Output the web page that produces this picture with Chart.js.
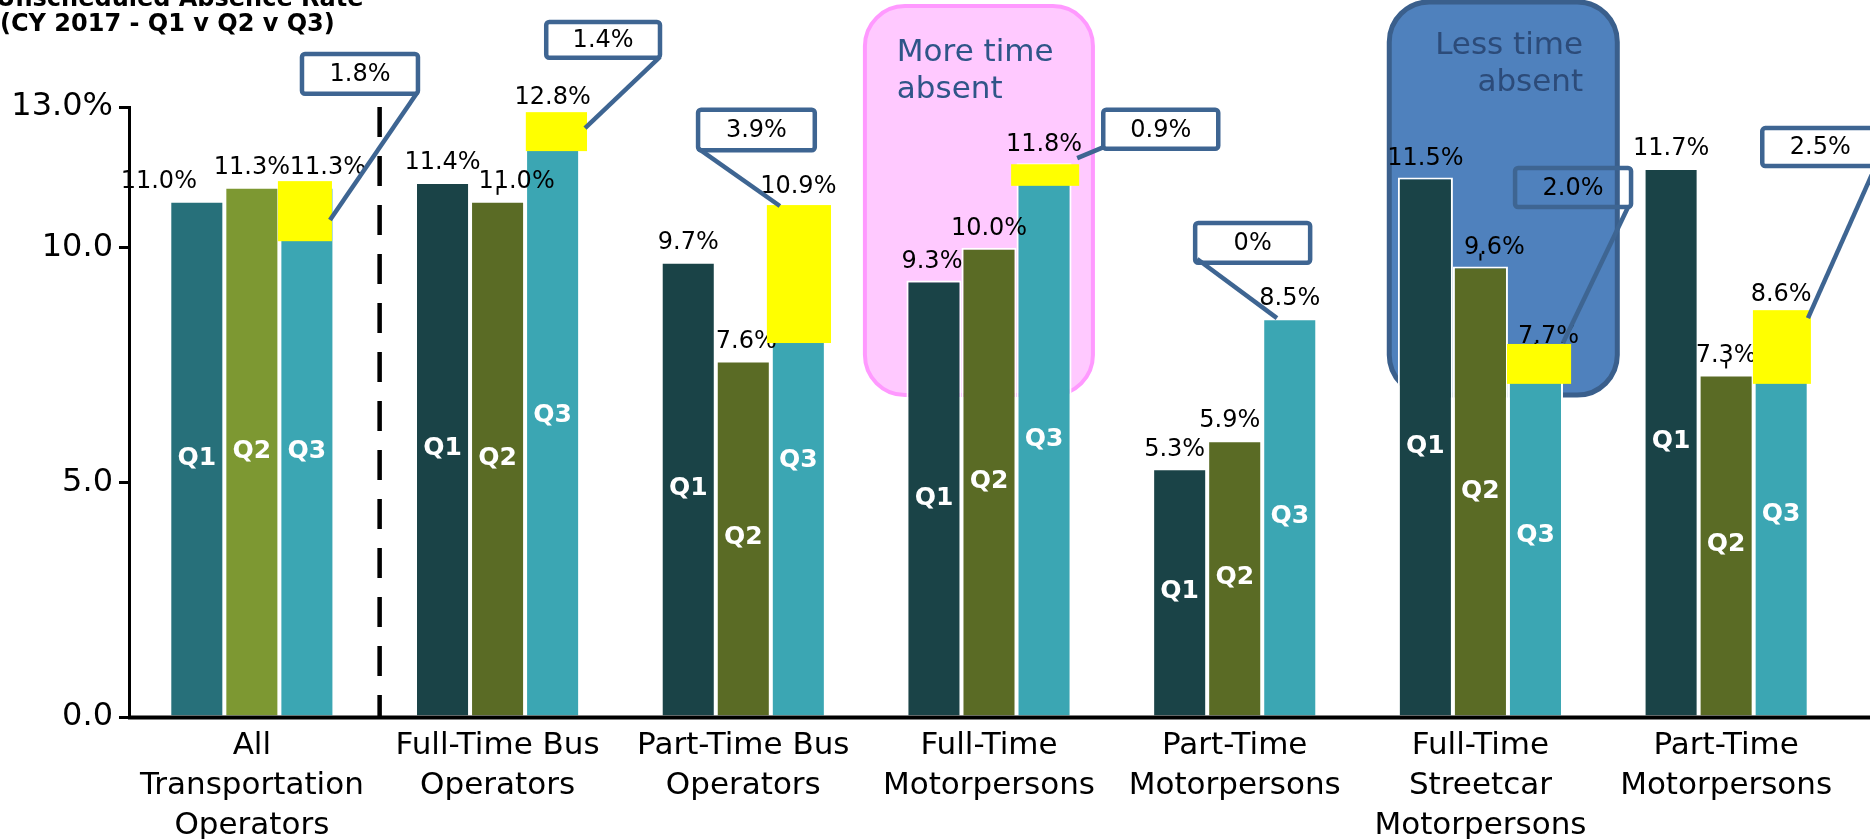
<!DOCTYPE html>
<html>
<head>
<meta charset="utf-8">
<title>Unscheduled Absence Rate</title>
<script src="https://cdn.jsdelivr.net/npm/chart.js@4.4.1/dist/chart.umd.min.js"></script>
<style>
  html, body { margin: 0; padding: 0; background: #fff; }
  #wrap { width: 1870px; height: 839px; }
</style>
</head>
<body>
<div id="wrap"><canvas id="absenceChart" width="1870" height="839"></canvas></div>
<script>
const categories = [
  ["All", "Transportation", "Operators"],
  ["Full-Time Bus", "Operators"],
  ["Part-Time Bus", "Operators"],
  ["Full-Time", "Motorpersons"],
  ["Part-Time", "Motorpersons"],
  ["Full-Time", "Streetcar", "Motorpersons"],
  ["Part-Time", "Motorpersons"]
];
const quarters = ["Q1", "Q2", "Q3"];
const q1Rates = [11.0, 11.4, 9.7, 9.3, 5.3, 11.5, 11.7];
const q2Rates = [11.3, 11.0, 7.6, 10.0, 5.9, 9.6, 7.3];
const q3Rates = [11.3, 12.8, 10.9, 11.8, 8.5, 7.7, 8.6];
const yTickValues = [0, 5, 10, 13];
const yTickLabels = ["0.0", "5.0", "10.0", "13.0%"];
const changeLabels = ["1.8%", "1.4%", "3.9%", "0.9%", "0%", "2.0%", "2.5%"];

const FONT = "'DejaVu Sans', Verdana, sans-serif";

// first group (all operators) uses lighter shades
const q1Colors = categories.map((c, i) => i === 0 ? "#27707A" : "#1A4347");
const q2Colors = categories.map((c, i) => i === 0 ? "#7D9832" : "#5A6B25");
const q3Colors = categories.map(() => "#3BA6B3");

// small sideways shifts of the value labels, and which ones get a tiny leader
const labelShift = [
  [-38, 0, 0, -2, -5, 0, 0],
  [0, 19, 3, 0, -5, 14, 0],
  [21, 0, 0, 0, 0, 13, 0]
];
const labelTicks = [
  [0, 0, 0, 0, 0, 0, 0],
  [0, 1, 0, 0, 0, 1, 1],
  [0, 0, 0, 0, 0, 1, 0]
];

// annotation shapes, in category units (u) and rate units (v)
const panels = [
  { lines: ["More time", "absent"], u: [2.495, 3.423], v: [15.15, 6.86],
    fill: "#FFC9FF", stroke: "#FF99FF", lw: 4, textColor: "#2F5588",
    align: "left", textU: 2.625, textV: [14.16, 13.37] },
  { lines: ["Less time", "absent"], u: [4.629, 5.557], v: [15.24, 6.86],
    fill: "#4F81BD", stroke: "#3A5F8C", lw: 5, textColor: "#2C4B79",
    align: "right", textU: 5.418, textV: [14.30, 13.52] }
];
const highlights = [
  { u: [0.106, 0.326], v: [10.14, 11.42] },
  { u: [1.115, 1.364], v: [12.06, 12.89] },
  { u: [2.096, 2.357], v: [7.97, 10.91] },
  { u: [3.090, 3.367], v: [11.32, 11.78] },
  { u: [5.108, 5.369], v: [7.10, 7.95] },
  { u: [6.109, 6.345], v: [7.10, 8.67] }
];
const callouts = [
  { u: [0.204, 0.676], v: [14.13, 13.28], from: [0.672, 13.30], to: [0.318, 10.59] },
  { u: [1.198, 1.661], v: [14.81, 14.05], from: [1.661, 14.07], to: [1.356, 12.55] },
  { u: [1.816, 2.291], v: [12.94, 12.08], from: [1.816, 12.12], to: [2.149, 10.89] },
  { u: [3.465, 3.933], v: [12.94, 12.11], from: [3.469, 12.15], to: [3.359, 11.91] },
  { u: [3.839, 4.307], v: [10.53, 9.68], from: [3.847, 9.76], to: [4.172, 8.50] },
  { u: [5.141, 5.613], v: [11.70, 10.87], from: [5.601, 10.87], to: [5.336, 7.97] },
  { u: [6.147, 6.619], v: [12.55, 11.74], from: [6.610, 11.76], to: [6.333, 8.50] }
];

function px(chart, u) {
  const xs = chart.scales.x;
  const x0 = xs.getPixelForValue(0);
  return x0 + u * (xs.getPixelForValue(1) - x0);
}
function py(chart, v) {
  return chart.scales.y.getPixelForValue(v);
}
function roundRect(ctx, x, y, w, h, r) {
  ctx.beginPath();
  ctx.moveTo(x + r, y);
  ctx.lineTo(x + w - r, y);
  ctx.arcTo(x + w, y, x + w, y + r, r);
  ctx.lineTo(x + w, y + h - r);
  ctx.arcTo(x + w, y + h, x + w - r, y + h, r);
  ctx.lineTo(x + r, y + h);
  ctx.arcTo(x, y + h, x, y + h - r, r);
  ctx.lineTo(x, y + r);
  ctx.arcTo(x, y, x + r, y, r);
  ctx.closePath();
}

const annotations = {
  id: "annotations",
  beforeDatasetsDraw(chart) {
    const ctx = chart.ctx;
    ctx.save();
    panels.forEach(p => {
      const x = px(chart, p.u[0]), w = px(chart, p.u[1]) - x;
      const y = py(chart, p.v[0]), h = py(chart, p.v[1]) - y;
      roundRect(ctx, x, y, w, h, 40);
      ctx.fillStyle = p.fill;
      ctx.fill();
      ctx.lineWidth = p.lw;
      ctx.strokeStyle = p.stroke;
      ctx.stroke();
      ctx.fillStyle = p.textColor;
      ctx.font = "31px " + FONT;
      ctx.textAlign = p.align;
      ctx.textBaseline = "middle";
      p.lines.forEach((t, k) => ctx.fillText(t, px(chart, p.textU), py(chart, p.textV[k])));
    });
    ctx.restore();
  },
  afterDatasetsDraw(chart) {
    const ctx = chart.ctx;
    const area = chart.chartArea;
    ctx.save();

    // quarter names inside the bars, rates above them
    chart.data.datasets.forEach((ds, d) => {
      chart.getDatasetMeta(d).data.forEach((bar, i) => {
        ctx.fillStyle = "#fff";
        ctx.font = "bold 25px " + FONT;
        ctx.textAlign = "center";
        ctx.textBaseline = "middle";
        ctx.fillText(quarters[d], bar.x, (bar.y + bar.base) / 2);

        ctx.fillStyle = "#000";
        ctx.font = "24px " + FONT;
        ctx.fillText(ds.data[i].toFixed(1) + "%", bar.x + labelShift[d][i], bar.y - 19);
        if (labelTicks[d][i]) {
          ctx.strokeStyle = "#000";
          ctx.lineWidth = 2;
          ctx.beginPath();
          ctx.moveTo(bar.x, bar.y - 13);
          ctx.lineTo(bar.x, bar.y - 6);
          ctx.stroke();
        }
      });
    });

    // yellow highlight on the Q3 bars
    ctx.fillStyle = "#FFFF00";
    highlights.forEach(h => {
      const x = px(chart, h.u[0]), y = py(chart, h.v[1]);
      ctx.fillRect(x, y, px(chart, h.u[1]) - x, py(chart, h.v[0]) - y);
    });

    // dashed divider after the first group
    ctx.strokeStyle = "#000";
    ctx.lineWidth = 4.5;
    ctx.setLineDash([30, 19]);
    ctx.beginPath();
    ctx.moveTo(px(chart, 0.52), area.top);
    ctx.lineTo(px(chart, 0.52), area.bottom);
    ctx.stroke();
    ctx.setLineDash([]);

    // x axis runs to the edge
    ctx.lineWidth = 4;
    ctx.beginPath();
    ctx.moveTo(area.left - 1, area.bottom + 0.5);
    ctx.lineTo(chart.width, area.bottom + 0.5);
    ctx.stroke();

    // change callouts
    ctx.strokeStyle = "#3E6592";
    ctx.lineWidth = 4.5;
    ctx.lineJoin = "round";
    callouts.forEach((c, k) => {
      const x = px(chart, c.u[0]), w = px(chart, c.u[1]) - x;
      const y = py(chart, c.v[0]), h = py(chart, c.v[1]) - y;
      roundRect(ctx, x, y, w, h, 3);
      ctx.stroke();
      ctx.beginPath();
      ctx.moveTo(px(chart, c.from[0]), py(chart, c.from[1]));
      ctx.lineTo(px(chart, c.to[0]), py(chart, c.to[1]));
      ctx.stroke();
      ctx.fillStyle = "#000";
      ctx.font = "24px " + FONT;
      ctx.textAlign = "center";
      ctx.textBaseline = "middle";
      ctx.fillText(changeLabels[k], x + w / 2, y + h / 2 + 1);
    });

    // title
    ctx.fillStyle = "#000";
    ctx.font = "bold 24px " + FONT;
    ctx.textAlign = "left";
    ctx.textBaseline = "alphabetic";
    ctx.fillText("Unscheduled Absence Rate", -4, 6);
    ctx.fillText("(CY 2017 - Q1 v Q2 v Q3)", 0, 31);
    ctx.restore();
  }
};

new Chart(document.getElementById("absenceChart"), {
  type: "bar",
  data: {
    labels: categories,
    datasets: [
      { label: "Q1", data: q1Rates, backgroundColor: q1Colors },
      { label: "Q2", data: q2Rates, backgroundColor: q2Colors },
      { label: "Q3", data: q3Rates, backgroundColor: q3Colors }
    ].map(ds => Object.assign(ds, {
      borderColor: "#fff",
      borderWidth: 2,
      barPercentage: 1.0,
      categoryPercentage: 0.672
    }))
  },
  options: {
    responsive: false,
    animation: false,
    layout: { padding: { top: 107, right: 21, left: 0, bottom: 0 } },
    plugins: {
      legend: { display: false },
      tooltip: { enabled: false }
    },
    scales: {
      x: {
        grid: { display: false, drawTicks: false },
        border: { display: false },
        ticks: {
          color: "#000",
          font: { family: FONT, size: 31, lineHeight: 1.29 },
          padding: 9,
          maxRotation: 0,
          autoSkip: false
        },
        afterFit(scale) { scale.height = 122; }
      },
      y: {
        min: 0,
        max: 13,
        grid: { drawOnChartArea: false, drawTicks: true, tickLength: 10, color: "#000", lineWidth: 3 },
        border: { display: true, color: "#000", width: 3 },
        ticks: {
          color: "#000",
          font: { family: FONT, size: 32 },
          padding: 6,
          callback: (value) => yTickLabels[yTickValues.indexOf(value)]
        },
        afterBuildTicks(scale) { scale.ticks = yTickValues.map(v => ({ value: v })); },
        afterFit(scale) { scale.width = 129; }
      }
    }
  },
  plugins: [annotations]
});
</script>
</body>
</html>
